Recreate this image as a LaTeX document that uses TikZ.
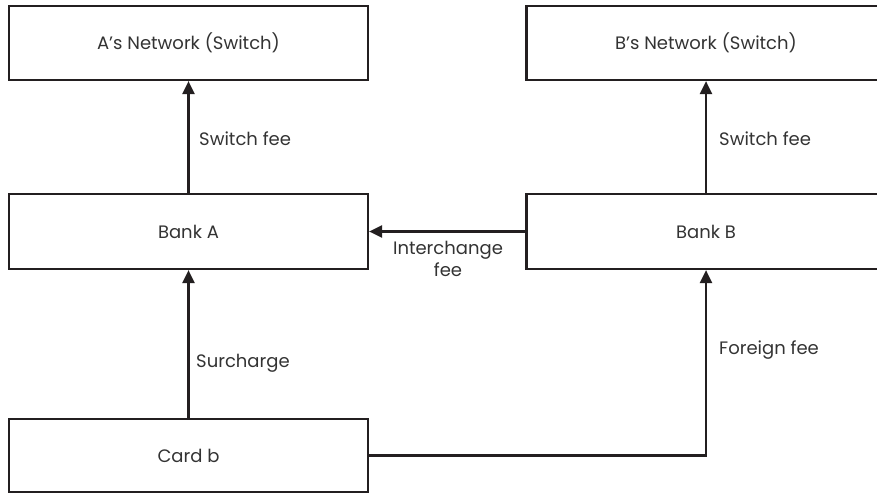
\documentclass[tikz,border=0pt]{standalone}
\usepackage{fontspec}
\setmainfont{Poppins}
\usetikzlibrary{arrows.meta}
\definecolor{ink}{HTML}{231F20}
\definecolor{txt}{HTML}{333333}
\begin{document}
\begin{tikzpicture}[x=1pt,y=-1pt,
  box/.style={draw=ink,line width=2.2pt,fill=white,inner sep=0pt,font=\fontsize{18}{22}\selectfont,text=txt},
  lbl/.style={inner sep=0pt,font=\fontsize{18}{22}\selectfont,text=txt},
  conn/.style={draw=ink,line width=2.2pt,-{Triangle[length=13pt,width=12pt]}}]
\useasboundingbox (0,0) rectangle (877,493);
\clip (0,0) rectangle (877,493);
\node[box,minimum width=359pt,minimum height=74pt] (an) at (188.5,43) {A’s Network (Switch)};
\node[box,minimum width=359pt,minimum height=74pt] (bn) at (706,43) {B’s Network (Switch)};
\node[box,minimum width=359pt,minimum height=75pt] (ba) at (188.5,231.5) {Bank A};
\node[box,minimum width=359pt,minimum height=75pt] (bb) at (706,231.5) {Bank B};
\node[box,minimum width=359pt,minimum height=73pt] (cb) at (188.5,455.5) {Card b};
\draw[conn] (ba.north) -- (an.south);
\draw[conn] (bb.north) -- (bn.south);
\draw[conn] (bb.west) -- (ba.east);
\draw[conn] (cb.north) -- (ba.south);
\draw[conn] (cb.east) -| (bb.south);
\node[lbl,anchor=west] (l1) at (199,139) {Switch fee};
\node[lbl,anchor=west] (l2) at (719,139) {Switch fee};
\node[lbl,align=center] (l3) at (448,259) {Interchange\\fee};
\node[lbl,anchor=west] (l4) at (196,363) {Surcharge};
\node[lbl,anchor=west] (l5) at (719,350) {Foreign fee};
\end{tikzpicture}
\end{document}
